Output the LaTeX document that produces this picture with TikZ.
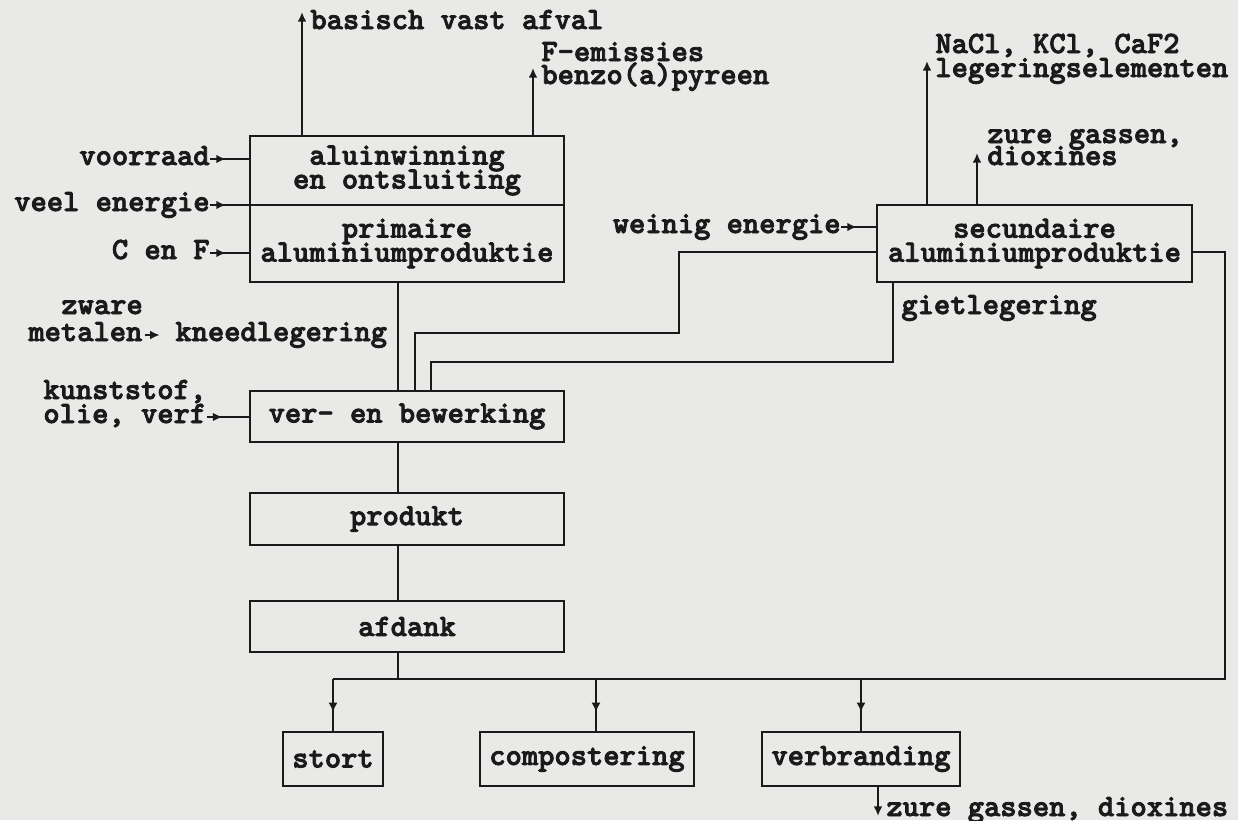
\documentclass[tikz,border=0pt]{standalone}
\usepackage{fontspec}
\usetikzlibrary{arrows.meta,decorations.markings}
\newfontfamily\typew{lmmonolt10-bold}[Extension=.otf, FakeBold=2.6]
\lineskiplimit=-100pt
\definecolor{paper}{RGB}{233,233,231}
\definecolor{ink}{RGB}{26,26,26}
\tikzset{
  every node/.style={text=ink, font=\typew\fontsize{15.5pt}{12pt}\selectfont},
  lab/.style={inner sep=0pt, anchor=base west},
  labr/.style={inner sep=0pt, anchor=base east},
  procbox/.style={draw=ink, line width=1.25pt, inner sep=0pt, align=center},
  wireline/.style={draw=ink, line width=1.25pt},
  uptip/.style={-{Latex[length=4.8pt,width=4.4pt]}},
  feedline/.style={wireline, postaction={decorate},
    decoration={markings, mark=at position 8pt with {\arrow{Latex[length=4.8pt,width=4.2pt]}}}},
  dropline/.style={wireline, postaction={decorate},
    decoration={markings, mark=at position 0.64 with {\arrow{Latex[length=4.8pt,width=4.6pt]}}}},
}
\begin{document}
\begin{tikzpicture}[x=0.5pt,y=-0.5pt]
\fill[paper] (0,0) rectangle (1238,820);
\useasboundingbox (0,0) rectangle (1238,820);

% process boxes
\node[procbox, minimum width=157pt, minimum height=34.5pt] (win) at (407,170.5) {aluinwinning\\en ontsluiting};
\node[procbox, minimum width=157pt, minimum height=38.5pt] (prim) at (407,243.5) {primaire\\aluminiumproduktie};
\node[procbox, minimum width=157.5pt, minimum height=38.5pt] (sec) at (1034.5,243.5) {secundaire\\aluminiumproduktie};
\node[procbox, minimum width=157pt, minimum height=25.5pt] (bew) at (407,416.5) {ver- en bewerking};
\node[procbox, minimum width=157pt, minimum height=26pt] (prod) at (407,519) {produkt};
\node[procbox, minimum width=157pt, minimum height=25.5pt] (afd) at (407,626.5) {afdank};
\node[procbox, minimum width=50pt, minimum height=27pt] (stort) at (333,759) {stort};
\node[procbox, minimum width=107pt, minimum height=27pt] (comp) at (587,759) {compostering};
\node[procbox, minimum width=99pt, minimum height=27pt] (verb) at (861,759) {verbranding};

% flow labels
\node[lab] (basisch) at (310,29) {basisch vast afval};
\node[lab] (femis) at (541,61) {F-emissies};
\node[lab] (benzo) at (541,84) {benzo(a)pyreen};
\node[lab] (nacl) at (935,53) {NaCl, KCl, CaF2};
\node[lab] (leg) at (935,77) {legeringselementen};
\node[lab] (zure) at (987,143) {zure gassen,};
\node[lab] (diox) at (987,165) {dioxines};
\node[labr] (voorraad) at (210,165) {voorraad};
\node[labr] (veel) at (210,211) {veel energie};
\node[labr] (cenf) at (210,259) {C en F};
\node[labr] (weinig) at (841,233) {weinig energie};
\node[lab] (zware) at (61,314) {zware};
\node[lab] (metalen) at (28,341) {metalen};
\node[lab] (kneed) at (175,341) {kneedlegering};
\node[lab] (giet) at (901,314) {gietlegering};
\node[lab] (kunst) at (43,399) {kunststof,};
\node[lab] (olie) at (43,423) {olie, verf};
\node[lab] (uitstoot) at (886,816) {zure gassen, dioxines};

% emissions leaving the processes
\coordinate (t1) at ([xshift=-4pt,yshift=8.5pt]basisch.base west);
\coordinate (t2) at ([xshift=-4pt,yshift=8pt]benzo.base west);
\coordinate (t3) at ([xshift=-4pt,yshift=8pt]leg.base west);
\coordinate (t4) at ([xshift=-5pt,yshift=6pt]diox.base west);
\coordinate (t5) at ([xshift=-4pt]uitstoot.base west);
\draw[wireline, uptip] (t1 |- win.north) -- (t1);
\draw[wireline, uptip] (t2 |- win.north) -- (t2);
\draw[wireline, uptip] (t3 |- sec.north) -- (t3);
\draw[wireline, uptip] (t4 |- sec.north) -- (t4);
\draw[wireline, uptip] (t5 |- verb.south) -- (t5);

% inputs
\draw[feedline] ([yshift=3pt]voorraad.base east) coordinate (i1) -- (i1 -| win.west);
\draw[feedline] ([yshift=3pt]veel.base east) coordinate (i2) -- (i2 -| win.west);
\draw[feedline] ([yshift=3pt]cenf.base east) coordinate (i3) -- (i3 -| prim.west);
\draw[feedline] ([yshift=3pt]weinig.base east) coordinate (i4) -- (i4 -| sec.west);
\draw[feedline] ([yshift=3pt]olie.base east) coordinate (i5) -- (i5 -| bew.west);
\draw[wireline, uptip] ([xshift=1pt,yshift=3pt]metalen.base east) -- ++(15,0);

% main chain
\coordinate (col) at (398,0);
\coordinate (split) at (398,679);
\draw[wireline] (prim.south -| col) -- (bew.north -| col);
\draw[wireline] (bew.south -| col) -- (prod.north -| col);
\draw[wireline] (prod.south -| col) -- (afd.north -| col);
\draw[wireline] (afd.south -| col) -- (split);

% secondary aluminium back to processing
\coordinate (ra) at (679,252);
\coordinate (rb) at (415,333);
\draw[wireline] (sec.west |- ra) -- (ra) |- (rb) -- (rb |- bew.north);
\coordinate (ga) at (893,362);
\coordinate (gb) at (431,362);
\draw[wireline] (sec.south -| ga) -- (ga) -- (gb) -- (gb |- bew.north);

% waste routes
\coordinate (rc) at (1225,252);
\coordinate (re) at (1225,679);
\coordinate (cx) at (596,0);
\draw[wireline] (sec.east |- rc) -- (rc) -- (re) -- (re -| stort.north);
\draw[dropline] (re -| stort.north) -- (stort.north);
\draw[dropline] (re -| cx) -- (comp.north -| cx);
\draw[dropline] (re -| verb.north) -- (verb.north);
\end{tikzpicture}
\end{document}
